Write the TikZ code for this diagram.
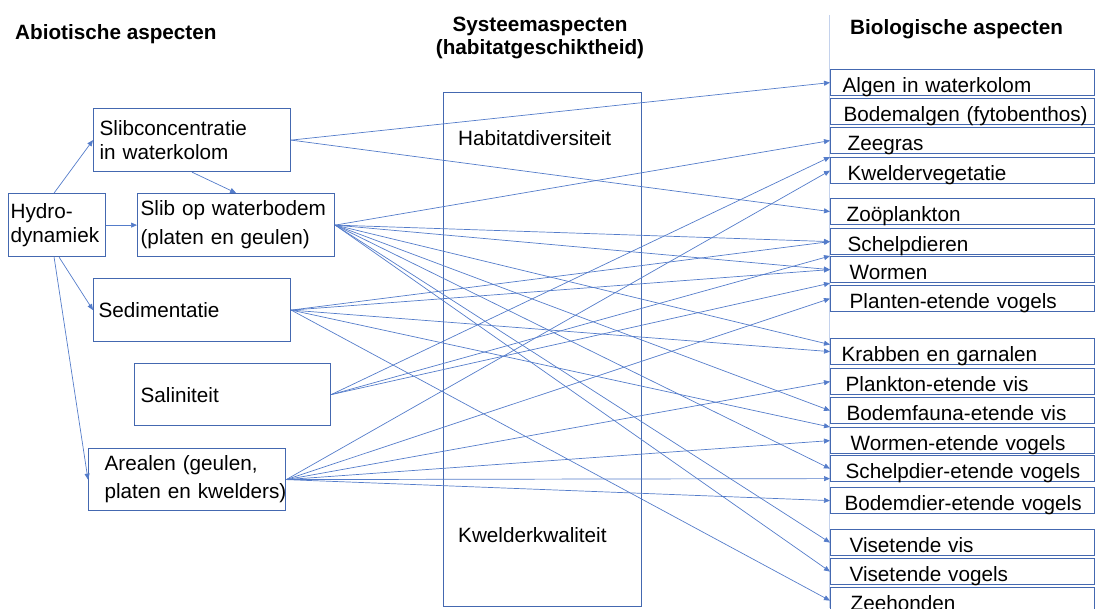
\documentclass[tikz,border=0pt]{standalone}
\usepackage{fontspec}
\setmainfont{Liberation Sans}
\usetikzlibrary{arrows.meta}
\definecolor{BoxClr}{RGB}{68,104,176}
\definecolor{LineClr}{RGB}{84,124,202}
\definecolor{RuleClr}{RGB}{196,210,236}

\begin{document}
\begin{tikzpicture}[x=1pt,y=-1pt,font=\fontsize{20.7}{24}\selectfont,
  abio/.style={draw=BoxClr,line width=1.2pt,anchor=north west,minimum width=197pt,minimum height=63pt,inner xsep=5pt,text width=187pt,align=left},
  bio/.style={draw=BoxClr,line width=1.2pt,anchor=north west,minimum width=264pt,minimum height=26pt,inner xsep=0pt,inner ysep=0pt,text width=264pt,text height=23pt,text depth=3pt,align=left,execute at begin node={\hspace*{#1}}},
  bio/.default=15pt,
  head/.style={font=\fontsize{20.7}{23}\selectfont\bfseries,inner sep=0pt},
  conn/.style={draw=LineClr,line width=.7pt,-{Triangle[length=6pt,width=5pt]}}]

\useasboundingbox (0,0) rectangle (1095,608);

\node[head,anchor=base west] (abiohead) at (15,39) {Abiotische aspecten};
\node[head,anchor=north,align=center] (systhead) at (540,17) {Systeemaspecten\\(habitatgeschiktheid)};
\node[head,anchor=base west] (biohead) at (850,34) {Biologische aspecten};

\draw[RuleClr,line width=1pt] (829,15) -- (829,608);

\node[abio,minimum width=97pt,inner xsep=2pt,text width=93pt] (hydro) at (8,193) {Hydro-\\dynamiek};
\node[abio,inner xsep=6pt,text width=185pt] (slibconc) at (93,108) {Slibconcentratie\\in waterkolom};
\node[abio,inner xsep=3pt,text width=191pt] (slib) at (137,193) {Slib op waterbodem\\[5pt](platen en geulen)};
\node[abio] (sedim) at (93,278) {Sedimentatie};
\node[abio,minimum width=196pt,minimum height=62pt,inner xsep=6pt,text width=184pt] (salin) at (134,363) {Saliniteit};
\node[abio,minimum height=62pt,inner xsep=16pt,text width=165pt] (areal) at (88,448) {\mbox{Arealen (geulen,}\\[4pt]\mbox{platen en kwelders)}};

\node[draw=BoxClr,line width=1.2pt,anchor=north west,minimum width=198pt,minimum height=514pt] (systeem) at (443,92) {};
\node[anchor=west,inner sep=0pt] (habdiv) at (458,138) {Habitatdiversiteit};
\node[anchor=west,inner sep=0pt] (kwelkwal) at (458,535) {Kwelderkwaliteit};

\node[bio=12pt] (algen) at (830,69) {Algen in waterkolom};
\node[bio=13pt] (bodemalg) at (830,98) {Bodemalgen (fytobenthos)};
\node[bio=17pt] (zeegras) at (830,127) {Zeegras};
\node[bio=17pt] (kwelder) at (830,157) {Kweldervegetatie};
\node[bio=16pt] (zoo) at (830,198) {Zoöplankton};
\node[bio=17pt] (schelp) at (830,228) {Schelpdieren};
\node[bio=19pt] (wormen) at (830,256) {Wormen};
\node[bio=19pt] (planten) at (830,285) {Planten-etende vogels};
\node[bio=11pt] (krabben) at (830,338) {Krabben en garnalen};
\node[bio=15pt] (plankvis) at (830,368) {Plankton-etende vis};
\node[bio=16pt] (bodemvis) at (830,397) {Bodemfauna-etende vis};
\node[bio=20pt] (wormvog) at (830,427) {Wormen-etende vogels};
\node[bio=15pt] (schelpvog) at (830,455) {Schelpdier-etende vogels};
\node[bio=14pt] (bodemvog) at (830,487) {Bodemdier-etende vogels};
\node[bio=19pt] (visvis) at (830,529) {Visetende vis};
\node[bio=19pt] (visvog) at (830,558) {Visetende vogels};
\node[bio=20pt] (zeehond) at (830,587) {Zeehonden};

\coordinate (krabben-a) at ([yshift=7pt]krabben.west);
\coordinate (schelpvog-b) at ([yshift=-10pt]schelpvog.west);

\draw[conn] ([xshift=-3pt]hydro.north) -- (slibconc.west);
\draw[conn] (hydro.east) -- (slib.west);
\draw[conn] ([xshift=2pt]hydro.south) -- (sedim.west);
\draw[conn] ([xshift=-3pt]hydro.south) -- (areal.west);
\draw[conn] (slibconc.south) -- (slib.north);

\foreach \t in {algen.west,zoo.west}
  \draw[conn] (slibconc.east) -- (\t);
\foreach \t in {zeegras.west,schelp.west,wormen.west,krabben-a,bodemvis.west,schelpvog.west,visvis.west,visvog.west}
  \draw[conn] (slib.east) -- (\t);
\foreach \t in {schelp.west,wormen.west,krabben.west,wormvog.north west,zeehond.west}
  \draw[conn] (sedim.east) -- (\t);
\foreach \t in {kwelder.north west,wormen.north west,wormen.south west}
  \draw[conn] (salin.east) -- (\t);
\foreach \t in {kwelder.west,planten.west,plankvis.west,wormvog.west,schelpvog-b,bodemvog.west}
  \draw[conn] (areal.east) -- (\t);

\end{tikzpicture}
\end{document}
